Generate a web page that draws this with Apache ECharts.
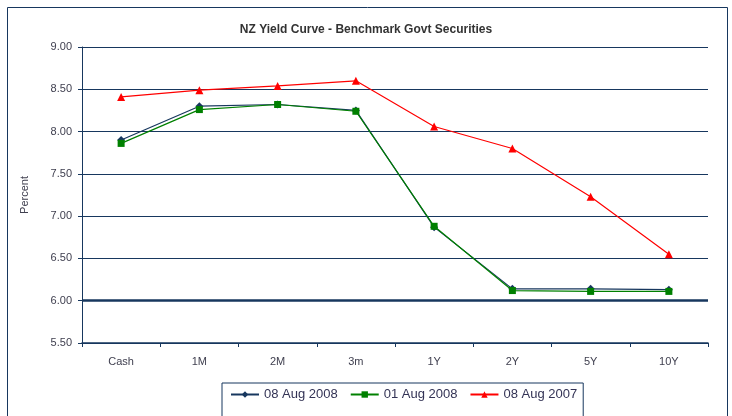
<!DOCTYPE html>
<html>
<head>
<meta charset="utf-8">
<script src="https://cdn.jsdelivr.net/npm/echarts@6/dist/echarts.min.js"></script>
<style>
  html, body { margin: 0; padding: 0; background: #ffffff; }
  #chart { width: 732px; height: 416px; }
</style>
</head>
<body>
<div id="chart"></div>
<script>
// tenors along the curve
var tenors = ['Cash', '1M', '2M', '3m', '1Y', '2Y', '5Y', '10Y']
// yields in percent
var aug08_2008 = [7.90, 8.30, 8.32, 8.25, 6.87, 6.14, 6.14, 6.13]
var aug01_2008 = [7.86, 8.26, 8.32, 8.24, 6.88, 6.12, 6.11, 6.11]
var aug08_2007 = [8.41, 8.49, 8.54, 8.60, 8.06, 7.80, 7.23, 6.55]

var navy = '#17375E'
var chart = echarts.init(document.getElementById('chart'))
chart.setOption({
  backgroundColor: '#ffffff',
  textStyle: { fontFamily: 'Liberation Sans' },
  animation: false,
  title: {
    text: 'NZ Yield Curve - Benchmark Govt Securities',
    left: 'center',
    top: 19,
    textStyle: { fontSize: 12, fontWeight: 'bold', color: '#333333', fontFamily: 'Liberation Sans' }
  },
  graphic: [{
    type: 'rect',
    shape: { x: 7.5, y: 7.5, width: 720, height: 420 },
    style: { fill: null, stroke: navy, lineWidth: 1 },
    silent: true
  }],
  legend: {
    top: 383,
    left: 222,
    padding: [5, 6, 20, 8],
    itemGap: 12,
    itemWidth: 28,
    itemHeight: 8,
    borderColor: navy,
    borderWidth: 1,
    textStyle: { fontSize: 13, color: '#333355' },
    data: ['08 Aug 2008', '01 Aug 2008', '08 Aug 2007']
  },
  grid: { left: 82, right: 24, top: 47, bottom: 73 },
  xAxis: {
    type: 'category',
    data: tenors,
    boundaryGap: true,
    axisLine: { lineStyle: { color: navy, width: 1.5 } },
    axisTick: { show: true, length: 4, lineStyle: { color: navy } },
    axisLabel: { fontSize: 11, color: '#404050', margin: 13 }
  },
  yAxis: {
    type: 'value',
    min: 5.5,
    max: 9,
    interval: 0.5,
    name: 'Percent',
    nameLocation: 'center',
    nameGap: 52,
    nameTextStyle: { fontSize: 11, color: '#404050' },
    axisLine: { show: true, lineStyle: { color: navy, width: 1 } },
    axisTick: { show: true, length: 4, lineStyle: { color: navy } },
    axisLabel: { fontSize: 11, color: '#404050', margin: 10, formatter: function (v) { return v.toFixed(2) } },
    splitLine: { lineStyle: { color: navy, width: 1 } }
  },
  series: [{
    name: '08 Aug 2008',
    type: 'line',
    data: aug08_2008,
    color: navy,
    symbol: 'diamond',
    symbolSize: 8,
    lineStyle: { width: 1.2 },
    markLine: {
      silent: true,
      symbol: 'none',
      label: { show: false },
      lineStyle: { color: navy, width: 2.5, type: 'solid' },
      data: [{ yAxis: 6 }]
    }
  }, {
    name: '01 Aug 2008',
    type: 'line',
    data: aug01_2008,
    color: '#008000',
    symbol: 'rect',
    symbolSize: 7,
    lineStyle: { width: 1.2 }
  }, {
    name: '08 Aug 2007',
    type: 'line',
    data: aug08_2007,
    color: '#FF0000',
    symbol: 'triangle',
    symbolSize: 8,
    lineStyle: { width: 1.2 }
  }]
})
</script>
</body>
</html>
